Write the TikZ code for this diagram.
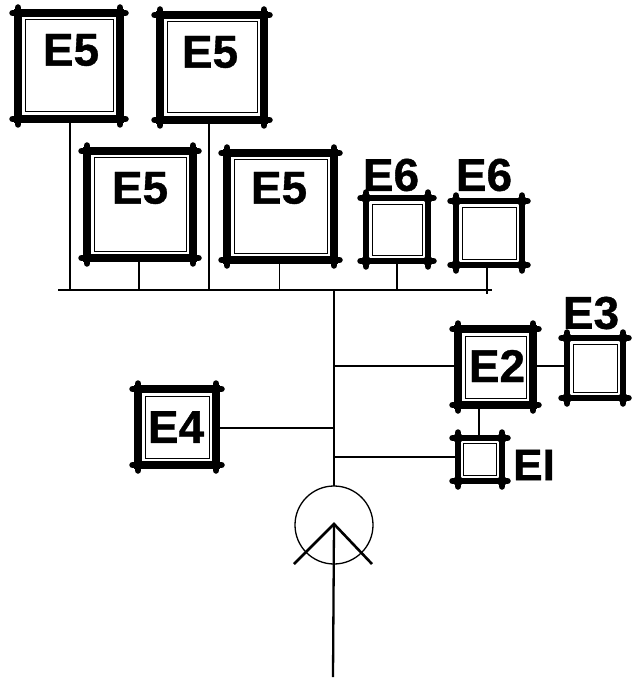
\documentclass[tikz,border=0pt]{standalone}
\usepackage{fontspec}
\setmainfont[BoldFeatures={FakeBold=0.8}]{Liberation Sans}
\usetikzlibrary{calc}
\tikzset{
  frame/.style={draw=black,fill=white,line width=7.5pt,inner sep=0pt,outer sep=0pt,line join=miter},
  smallframe/.style={frame,line width=6.5pt},
  wire/.style={draw=black,line width=1.7pt},
  thinwire/.style={draw=black,line width=1.2pt},
  inner/.style={draw=black,line width=1pt},
  big/.style={font=\fontsize{46}{46}\bfseries\selectfont,inner sep=0pt,text=black},
  mid/.style={font=\fontsize{44}{44}\bfseries\selectfont,inner sep=0pt,text=black},
  corner/.style={line width=6.5pt,line cap=round,draw=black}
}
% name, x1, y1, x2, y2, style, inner offset
\newcommand{\boxat}[7]{%
  \node[#6,minimum width={#4-#2},minimum height={#5-#3}] (#1) at ({(#2+#4)/2},{(#3+#5)/2}) {};
  \draw[inner] ([shift={(#7,#7)}]#1.north west) rectangle ([shift={(-#7,-#7)}]#1.south east);
  \draw[corner] ([xshift=-5.5]#1.north west) -- ([xshift=5.5]#1.north east)
                ([xshift=-5.5]#1.south west) -- ([xshift=5.5]#1.south east)
                ([yshift=5.5]#1.north west) -- ([yshift=-5.5]#1.south west)
                ([yshift=5.5]#1.north east) -- ([yshift=-5.5]#1.south east);
  \foreach \c in {north west,north east,south west,south east}
    {\fill[black] (#1.\c) circle[radius=5];}
}
\begin{document}
\begin{tikzpicture}[x=1pt,y=-1pt]
\useasboundingbox[fill=white] (0,0) rectangle (633,679);
\boxat{a}{18}{13}{120}{119}{frame}{7}
\boxat{b}{160}{15}{264}{120}{frame}{7}
\boxat{c}{87}{151}{193}{258}{frame}{7}
\boxat{d}{227}{153}{334}{260}{frame}{7}
\boxat{e}{366}{198}{428}{261}{smallframe}{6}
\boxat{f}{456}{201}{522}{265}{smallframe}{6}
\boxat{g}{458}{329}{533}{405}{frame}{7}
\boxat{h}{567}{338}{623}{398}{smallframe}{6}
\boxat{k}{458}{438}{502}{481}{smallframe}{5.5}
\boxat{m}{138}{389}{216}{465}{frame}{7}

\node[big] (ta) at (71,50) {E5};
\node[big] (tb) at (210,52) {E5};
\node[big] (tc) at (140,188) {E5};
\node[big] (td) at (279,188) {E5};
\node[big] (te) at (391,175) {E6};
\node[big] (tf) at (484,175) {E6};
\node[big] (th) at (591,313) {E3};
\node[big] (tg) at (497,366) {E2};
\node[big] (tm) at (176,427) {E4};
\node[mid] (tk) at (534,465) {EI};

\coordinate (busL) at (58,290);
\coordinate (busR) at (492,290);
\coordinate (top) at (334,290);
\coordinate (base) at (333,677);
\coordinate (hubA) at (334,366);
\coordinate (hubB) at (334,428);
\coordinate (hubC) at (334,457);
\node[draw=black,line width=1.3pt,circle,minimum size=78pt,inner sep=0pt,outer sep=0pt] (gen) at (334,525) {};
\coordinate (apex) at (334,524);
\coordinate (chL) at (294,564);
\coordinate (chR) at (372,564);

\draw[wire] (busL) -- (busR);
\draw[wire] ([xshift=1]a.south) -- ([xshift=1]a.south |- busL);
\draw[wire] ([xshift=-3]b.south) -- ([xshift=-3]b.south |- busL);
\draw[wire] ([xshift=-1]c.south) -- ([xshift=-1]c.south |- busL);
\draw[wire] ([xshift=-1]d.south) -- ([xshift=-1]d.south |- busL);
\draw[wire] (e.south) -- (e.south |- busL);
\draw[wire] ([xshift=-2]f.south) -- ([shift={(-2,4)}]f.south |- busL);
\draw[line width=2.3pt] (top) -- (gen.north);
\draw[thinwire] (hubA) -- (g.west |- hubA);
\draw[thinwire] (g.east |- hubA) -- (h.west |- hubA);
\draw[wire] (g.south -| 479,0) -- (k.north -| 479,0);
\draw[wire] (m.east |- hubB) -- (hubB);
\draw[wire] (hubC) -- (k.west |- hubC);
\draw[line width=2.6pt] (chL) -- (apex) -- (chR);
\draw[line width=2.3pt] (apex) -- (base);
\end{tikzpicture}
\end{document}
